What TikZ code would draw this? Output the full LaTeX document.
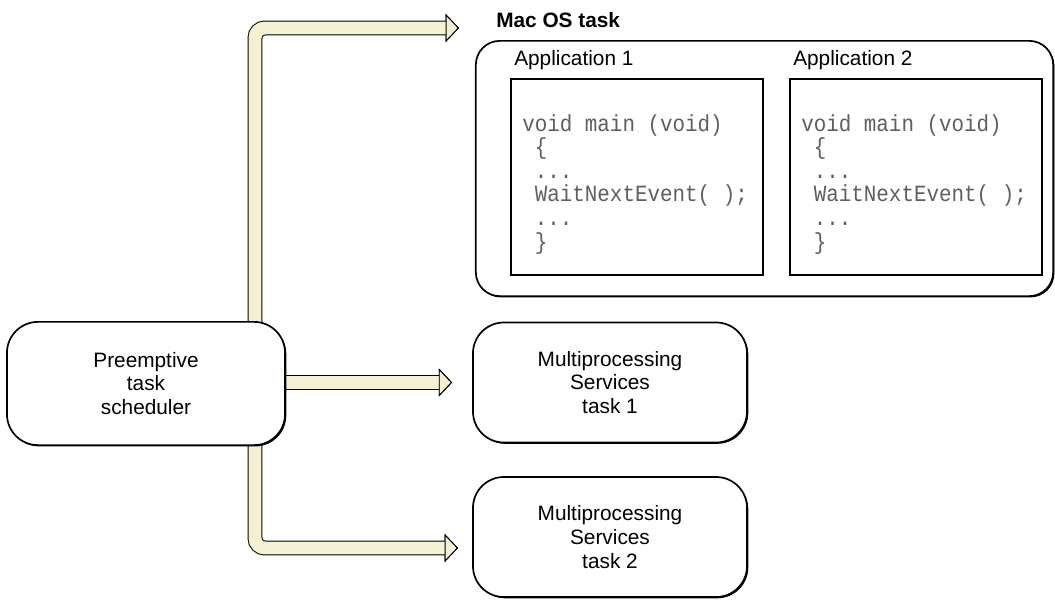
\documentclass[tikz,border=0pt]{standalone}
\usepackage{fontspec}
\setmainfont{Liberation Sans}
\newfontfamily\codefont[FakeStretch=0.9]{Liberation Mono}
\usetikzlibrary{calc,arrows.meta,shadows,backgrounds}
\definecolor{paleyellow}{RGB}{243,241,210}
\definecolor{codegray}{RGB}{95,95,95}

\begin{document}
\begin{tikzpicture}[x=0.025cm, y=-0.025cm,
    task/.style={draw, fill=white, line width=1.2pt, rounded corners=22pt, align=center,
      general shadow={fill=black, shadow xshift=0.9pt, shadow yshift=-0.9pt},
      font=\fontsize{14.8}{17}\selectfont},
    appbox/.style={draw, line width=1.3pt, minimum width=6.3cm, minimum height=4.9cm},
    code/.style={align=left, text=codegray, inner sep=0pt,
      font=\codefont\fontsize{16.5}{16.8}\selectfont},
    headtip/.style={-{Triangle[length=9.5pt, width=20pt, line width=0.7pt, fill=paleyellow, color=black]}},
    blockarrow/.style={draw=paleyellow, line width=9.2pt, rounded corners=7pt, headtip,
      preaction={draw=black, line width=10.6pt, headtip}}]
  \useasboundingbox (0,0) rectangle (1055,601);

  \node[task, minimum width=6.95cm, minimum height=3.08cm] (sched) at (146,383.5)
    {Preemptive\\task\\scheduler};
  \foreach \i/\y in {1/382.5, 2/537}
    \node[task, minimum width=6.85cm, minimum height=3.0cm] (ms\i) at (610,\y)
      {Multiprocessing\\Services\\task \i};

  % Mac OS task with its two applications
  \node[task, rounded corners=17pt, minimum width=14.43cm, minimum height=6.38cm] (mac) at (764.5,168.5) {};
  \node[anchor=west, inner sep=0pt, font=\bfseries\fontsize{14.8}{17}\selectfont] (maclabel) at (496,20) {Mac OS task};
  \foreach \i/\x in {1/510, 2/789} {
    \node[appbox, anchor=north west] (app\i) at (\x,78) {};
    \node[anchor=west, inner sep=0pt, font=\fontsize{14.8}{17}\selectfont] (applabel\i)
      at ($(app\i.north west)+(4,-18)$) {Application \i};
    \node[code, anchor=north west] (code\i) at ($(app\i.north west)+(12,36)$)
      {void main (void)\\
       \hphantom{v}\{\\
       \hphantom{v}...\\
       \hphantom{v}WaitNextEvent( );\\
       \hphantom{v}...\\
       \hphantom{v}\}};
  }

  \begin{scope}[on background layer]
    \coordinate (hub) at (255,383);
    \coordinate (macin) at (459,28);
    \coordinate (ms2in) at (458,548);
    \draw[blockarrow] (hub) |- (macin);
    \draw[blockarrow, shorten >=0.5cm] (sched.east |- ms1.west) -- (ms1.west);
    \draw[blockarrow] (hub) |- (ms2in);
  \end{scope}
\end{tikzpicture}
\end{document}
